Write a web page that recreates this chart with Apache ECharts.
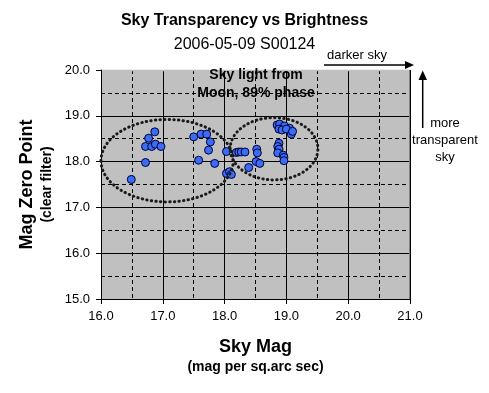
<!DOCTYPE html>
<html><head><meta charset="utf-8">
<script src="https://cdn.jsdelivr.net/npm/echarts@6/dist/echarts.min.js"></script>
<style>html,body{margin:0;padding:0;background:#fff}#c{width:489px;height:393px}</style>
</head><body><div id="c"></div>
<script>
// Data
const skyMag = [
  16.49, 16.72, 16.72, 16.77, 16.87, 16.82, 16.88, 16.97,
  17.50, 17.62, 17.71, 17.77, 17.74, 17.58, 17.84,
  18.03, 18.03, 18.08, 18.11, 18.19, 18.23, 18.27, 18.33, 18.39,
  18.52, 18.53, 18.51, 18.57,
  18.85, 18.89, 18.97, 19.05, 18.88, 18.93, 19.00, 19.08, 19.10,
  18.88, 18.86, 18.88, 18.86, 18.95, 18.96, 18.96
];
const zeroPoint = [
  17.61, 17.98, 18.33, 18.51, 18.65, 18.33, 18.38, 18.33,
  18.54, 18.60, 18.60, 18.43, 18.25, 18.03, 17.96,
  18.22, 17.74, 17.78, 17.72, 18.20, 18.21, 18.21, 18.21, 17.87,
  18.27, 18.19, 18.00, 17.96,
  18.80, 18.82, 18.78, 18.73, 18.71, 18.69, 18.71, 18.60, 18.66,
  18.40, 18.33, 18.27, 18.19, 18.14, 18.09, 18.02
];
const xRange = [16, 21];
const yRange = [15, 20];
// Annotation ellipses in data units: [centerX, centerY, radiusX, radiusY]
const ellipseLeft = [17.07, 18.02, 1.07, 0.90];
const ellipseRight = [18.80, 18.28, 0.71, 0.68];

const FONT = 'Liberation Sans, Arial, sans-serif';
const G = {left: 101, top: 70, width: 309, height: 229};

const chart = echarts.init(document.getElementById('c'), null, {renderer: 'canvas'});

function axisCommon() {
  return {
    type: 'value', interval: 1,
    axisLine: {show: true, onZero: false, lineStyle: {color: '#000', width: 1}},
    axisTick: {show: true, length: 5, lineStyle: {color: '#000'}},
    axisLabel: {fontSize: 13, color: '#000', fontFamily: FONT, margin: 11,
      formatter: v => v.toFixed(1)},
    splitLine: {show: true, lineStyle: {color: '#000', width: 1}},
    minorTick: {show: false, splitNumber: 2},
    minorSplitLine: {show: true, lineStyle: {color: '#000', width: 1, type: [4, 3]}}
  };
}

const option = {
  animation: false,
  backgroundColor: '#fff',
  title: {
    text: 'Sky Transparency vs Brightness',
    subtext: '2006-05-09 S00124',
    left: 'center', top: 7.5, itemGap: 8,
    textStyle: {fontSize: 16, fontWeight: 'bold', color: '#000', fontFamily: FONT},
    subtextStyle: {fontSize: 16, color: '#000', fontFamily: FONT}
  },
  grid: {left: G.left, top: G.top, width: G.width, height: G.height,
    show: true, backgroundColor: '#c0c0c0', borderWidth: 0},
  xAxis: Object.assign(axisCommon(), {
    min: xRange[0], max: xRange[1],
    name: '{a|Sky Mag}\n{b|(mag per sq.arc sec)}',
    nameLocation: 'middle', nameGap: 37.5,
    nameTextStyle: {rich: {
      a: {fontSize: 18, fontWeight: 'bold', color: '#000', fontFamily: FONT, lineHeight: 22, align: 'center'},
      b: {fontSize: 14, fontWeight: 'bold', color: '#000', fontFamily: FONT, lineHeight: 18, align: 'center'}
    }}
  }),
  yAxis: Object.assign(axisCommon(), {
    min: yRange[0], max: yRange[1],
    name: '{a|Mag Zero Point}\n{b|(clear filter)}',
    nameLocation: 'middle', nameGap: 42,
    nameTextStyle: {rich: {
      a: {fontSize: 18, fontWeight: 'bold', color: '#000', fontFamily: FONT, lineHeight: 22, align: 'center'},
      b: {fontSize: 14, fontWeight: 'bold', color: '#000', fontFamily: FONT, lineHeight: 18, align: 'center'}
    }}
  }),
  series: [{
    type: 'scatter',
    data: skyMag.map((x, i) => [x, zeroPoint[i]]),
    symbol: 'circle', symbolSize: 8,
    itemStyle: {color: '#3a6cf5', borderColor: '#000033', borderWidth: 1, opacity: 1},
    z: 3
  }]
};
chart.setOption(option);

function ellipseGraphic(e) {
  const c = chart.convertToPixel({gridIndex: 0}, [e[0], e[1]]);
  const r = chart.convertToPixel({gridIndex: 0}, [e[0] + e[2], e[1] + e[3]]);
  return {
    type: 'ellipse', z: 10, silent: true,
    shape: {cx: c[0], cy: c[1], rx: Math.abs(r[0] - c[0]), ry: Math.abs(c[1] - r[1])},
    style: {fill: null, stroke: '#1a1a1a', lineWidth: 3, lineDash: [0.4, 4.2], lineCap: 'round'}
  };
}

const R = G.left + G.width, B = G.top + G.height;
chart.setOption({
  graphic: [
    // plot edges (top edge unlined, right edge grey)
    {type: 'line', z: 1, shape: {x1: G.left + 1, y1: G.top + 0.5, x2: R, y2: G.top + 0.5},
      style: {stroke: '#c0c0c0', lineWidth: 1.5}},
    {type: 'line', z: 1, shape: {x1: R - 0.5, y1: G.top, x2: R - 0.5, y2: B},
      style: {stroke: '#808080', lineWidth: 1}},
    ellipseGraphic(ellipseLeft),
    ellipseGraphic(ellipseRight),
    {type: 'text', z: 11, style: {text: 'Sky light from\nMoon, 89% phase', x: 256, y: 84,
      align: 'center', verticalAlign: 'middle', lineHeight: 18,
      font: 'bold 14px ' + FONT, fill: '#000'}},
    {type: 'text', z: 11, style: {text: 'darker sky', x: 327, y: 55,
      align: 'left', verticalAlign: 'middle', font: '13px ' + FONT, fill: '#000'}},
    {type: 'line', z: 11, shape: {x1: 324, y1: 65, x2: 406, y2: 65},
      style: {stroke: '#000', lineWidth: 1.5}},
    {type: 'polygon', z: 11, shape: {points: [[414, 65], [405, 61], [405, 69]]},
      style: {fill: '#000'}},
    {type: 'line', z: 11, shape: {x1: 422.7, y1: 128, x2: 422.7, y2: 78},
      style: {stroke: '#000', lineWidth: 1.5}},
    {type: 'polygon', z: 11, shape: {points: [[422.7, 70.5], [418.5, 80], [427, 80]]},
      style: {fill: '#000'}},
    {type: 'text', z: 11, style: {text: 'more\ntransparent\nsky', x: 445, y: 140.5,
      align: 'center', verticalAlign: 'middle', lineHeight: 17.3,
      font: '13px ' + FONT, fill: '#000'}}
  ]
});
</script>
</body></html>
